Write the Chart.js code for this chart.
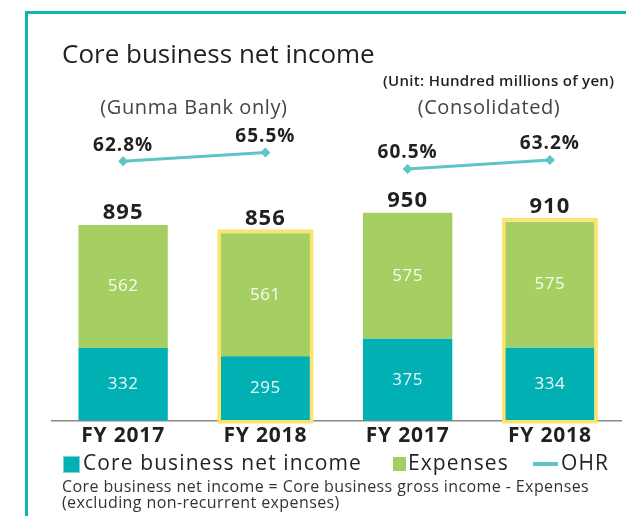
<!DOCTYPE html>
<html lang="en">
<head>
    <meta charset="UTF-8">
    <title>Core business net income</title>
    <style>
        body {
            margin: 0;
            width: 626px;
            height: 516px;
            overflow: hidden;
            background: #fff;
            position: relative;
            font-family: "Open Sans", Arial, sans-serif;
            color: #231f20;
        }
        .frame {
            position: absolute;
            left: 25px;
            top: 11px;
            width: 700px;
            height: 600px;
            border-left: 3px solid #12b3b4;
            border-top: 3px solid #12b3b4;
        }
        #chart-container {
            position: absolute;
            left: 0;
            top: 0;
            width: 626px;
            height: 516px;
        }
        .txt {
            position: absolute;
            line-height: 1;
            white-space: nowrap;
        }
        .title { left: 62px; top: 40px; font-size: 26px; }
        .unit { left: 383px; top: 73px; font-size: 15px; font-weight: 600; letter-spacing: 0.3px; }
        .sub { width: 240px; text-align: center; top: 97px; font-size: 20px; letter-spacing: 0.6px; color: #444; }
        .legend-text { top: 452px; font-size: 21px; letter-spacing: 1.1px; }
        .swatch { position: absolute; }
        .note { left: 62px; top: 478px; font-size: 16px; line-height: 16px; letter-spacing: 0.4px; color: #333; }
    </style>
    <script src="https://cdn.jsdelivr.net/npm/chart.js"></script>
</head>
<body>
    <div class="frame"></div>
    <div id="chart-container">
        <canvas id="ohrChart"></canvas>
    </div>

    <div class="txt title">Core business net income</div>
    <div class="txt unit">(Unit: Hundred millions of yen)</div>
    <div class="txt sub" style="left: 74px;">(Gunma Bank only)</div>
    <div class="txt sub" style="left: 369px;">(Consolidated)</div>

    <!-- legend -->
    <div class="swatch" style="left: 63px; top: 456px; width: 15px; height: 15px; background: #00b0b2; border: 1px solid #7fd4d5;"></div>
    <div class="txt legend-text" style="left: 83px;">Core business net income</div>
    <div class="swatch" style="left: 393px; top: 457px; width: 13px; height: 14px; background: #a5ce63;"></div>
    <div class="txt legend-text" style="left: 408px;">Expenses</div>
    <div class="swatch" style="left: 533px; top: 462px; width: 25px; height: 4px; background: #5cc6c6;"></div>
    <div class="txt legend-text" style="left: 561px;">OHR</div>

    <div class="txt note">Core business net income = Core business gross income - Expenses<br>(excluding non-recurrent expenses)</div>

    <script>
        const categories = ['FY 2017', 'FY 2018', 'FY 2017', 'FY 2018'];
        const coreNetIncome = [332, 295, 375, 334];
        const expenses = [562, 561, 575, 575];
        const totals = [895, 856, 950, 910];
        const ohr = [62.8, 65.5, 60.5, 63.2];
        const highlighted = [false, true, false, true];

        const teal = '#00b0b2';
        const green = '#a5ce63';
        const lineColor = '#5cc6c6';

        // totals, segment values, OHR labels and the yellow frames
        const labelsPlugin = {
            id: 'labels',
            beforeDraw(chart) {
                // slightly wider text, as in the printed chart
                chart.ctx.letterSpacing = '0.8px';
            },
            afterDatasetsDraw(chart) {
                const ctx = chart.ctx;
                const lower = chart.getDatasetMeta(0).data;
                const upper = chart.getDatasetMeta(1).data;
                const points = chart.getDatasetMeta(2).data;
                ctx.save();

                ctx.strokeStyle = '#fde36b';
                ctx.lineWidth = 3.5;
                highlighted.forEach((h, i) => {
                    if (!h) return;
                    const b = lower[i], t = upper[i];
                    const left = b.x - b.width / 2;
                    ctx.strokeRect(left - 1.5, t.y - 2, b.width + 3, b.base - t.y + 3);
                });

                ctx.textAlign = 'center';
                ctx.textBaseline = 'middle';
                ctx.letterSpacing = '0.5px';
                ctx.fillStyle = 'rgba(255,255,255,0.92)';
                ctx.font = '17px "Open Sans"';
                lower.forEach((b, i) => {
                    ctx.fillText(coreNetIncome[i], b.x, (b.y + b.base) / 2);
                });
                upper.forEach((b, i) => {
                    ctx.fillText(expenses[i], b.x, (b.y + b.base) / 2);
                });

                ctx.fillStyle = '#231f20';
                ctx.letterSpacing = '1px';
                ctx.font = 'bold 22px "Open Sans"';
                upper.forEach((b, i) => {
                    ctx.fillText(totals[i], b.x, b.y - (highlighted[i] ? 15 : 12));
                });

                ctx.font = 'bold 19px "Open Sans"';
                points.forEach((p, i) => {
                    ctx.fillText(ohr[i].toFixed(1) + '%', p.x, p.y - 16);
                });
                ctx.restore();
            }
        };

        const ctx = document.getElementById('ohrChart').getContext('2d');
        new Chart(ctx, {
            data: {
                labels: categories,
                datasets: [
                    {
                        type: 'bar',
                        label: 'Core business net income',
                        data: coreNetIncome,
                        backgroundColor: teal,
                        order: 1
                    },
                    {
                        type: 'bar',
                        label: 'Expenses',
                        data: expenses,
                        backgroundColor: green,
                        order: 1
                    },
                    {
                        type: 'line',
                        label: 'OHR',
                        data: ohr,
                        yAxisID: 'y2',
                        borderColor: lineColor,
                        borderWidth: 3,
                        pointStyle: 'rectRot',
                        pointRadius: 5,
                        pointBorderWidth: 0,
                        pointBackgroundColor: lineColor,
                        // Gunma Bank and consolidated are two separate lines
                        segment: {
                            borderColor: c => c.p0DataIndex === 1 ? 'rgba(0,0,0,0)' : lineColor
                        },
                        order: 0
                    }
                ]
            },
            options: {
                responsive: true,
                maintainAspectRatio: false,
                animation: false,
                layout: { padding: { left: 52, right: 1, top: 120, bottom: 64 } },
                plugins: {
                    legend: { display: false },
                    tooltip: { enabled: false }
                },
                datasets: {
                    bar: { categoryPercentage: 0.628, barPercentage: 1 }
                },
                scales: {
                    x: {
                        stacked: true,
                        grid: { display: false, drawTicks: false },
                        border: { display: true, color: '#8a8a8a', width: 1.5 },
                        ticks: {
                            color: '#231f20',
                            font: { family: 'Open Sans', size: 21, weight: 'bold' },
                            padding: 3,
                            maxRotation: 0,
                            autoSkip: false
                        }
                    },
                    y: { stacked: true, display: false, min: 0, max: 1373 },
                    y2: { display: false, min: -15.6, max: 75.3 }
                }
            },
            plugins: [labelsPlugin]
        });
    </script>
</body>
</html>
